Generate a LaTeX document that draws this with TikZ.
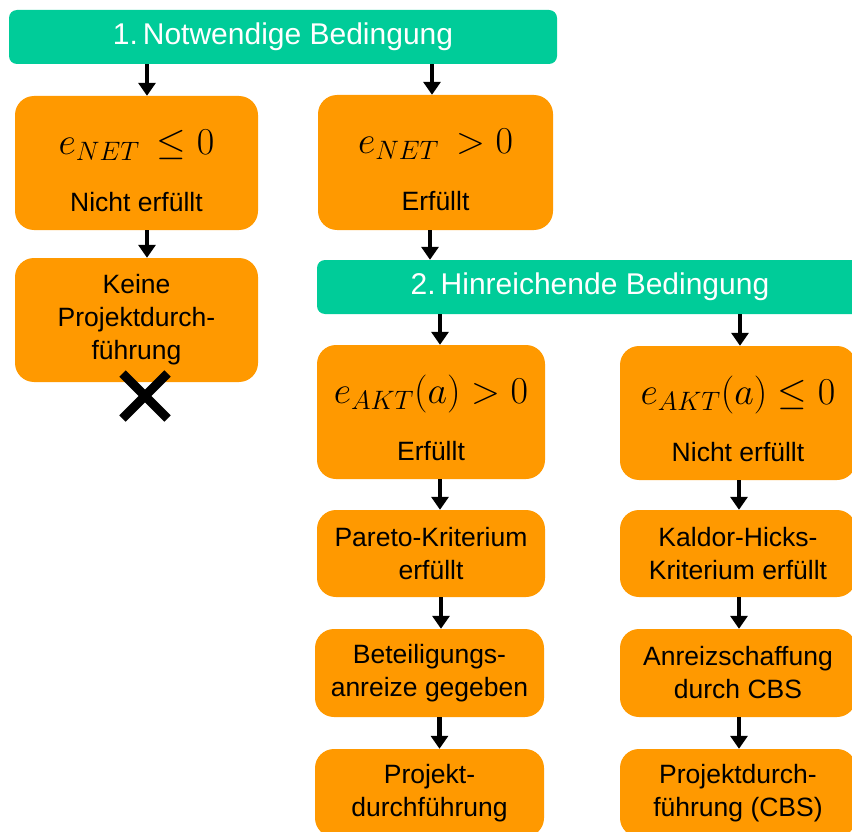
\documentclass[tikz,border=0pt]{standalone}
\usepackage{fix-cm}
\usepackage[no-math]{fontspec}
\setmainfont{Liberation Sans}
\usetikzlibrary{arrows.meta,shapes.misc}
\definecolor{barGreen}{RGB}{0,204,153}
\definecolor{boxOrange}{RGB}{255,153,0}
\newcommand{\bigmath}[1]{{\fontsize{38}{42}\selectfont\rule{0pt}{40pt}$#1$}}
\begin{document}
\begin{tikzpicture}[x=1pt, y=-1pt,
  bar/.style={fill=barGreen, rounded corners=8pt, text=white, inner sep=0pt,
    minimum height=54pt, font=\fontsize{30}{36}\selectfont},
  box/.style={fill=boxOrange, rounded corners=19pt, inner sep=0pt, align=center,
    font=\fontsize{26.5}{33}\selectfont},
  arr/.style={line width=4.5pt, -{Triangle[length=13pt,width=17pt]}}]
\useasboundingbox (0,0) rectangle (852,832);
\clip (0,0) rectangle (852,832);
\node[bar, minimum width=548pt] (P_0_0) at (283,37) {1.\,Notwendige Bedingung};
\node[box, minimum width=243pt, minimum height=134pt] (P_1_0) at (136.5,163) {\bigmath{e_{NET}\,\le 0}\\[24pt]Nicht erfüllt};
\draw[arr] ([xshift=10.5pt]P_1_0.north |- P_0_0.south) -- ([xshift=10.5pt]P_1_0.north);
\node[box, minimum width=235pt, minimum height=135pt] (P_1_1) at (435.5,162.5) {\bigmath{e_{NET}\,> 0}\\[24pt]Erfüllt};
\draw[arr] ([xshift=-3.5pt]P_1_1.north |- P_0_0.south) -- ([xshift=-3.5pt]P_1_1.north);
\node[box, minimum width=243pt, minimum height=124pt] (P_2_0) at (136.5,320) {Keine\\Projektdurch-\\führung};
\draw[arr] ([xshift=10.5pt]P_1_0.south) -- ([xshift=10.5pt]P_2_0.north);
\node[cross out, draw, line width=9pt, inner sep=0pt, minimum size=36pt] (P_2_0x) at (145,396) {};
\node[bar, minimum width=546pt] (P_2_1) at (590,287) {2.\,Hinreichende Bedingung};
\draw[arr] ([xshift=-5.5pt]P_1_1.south) -- ([xshift=-5.5pt]P_1_1.south |- P_2_1.north);
\node[box, minimum width=228pt, minimum height=134pt] (P_3_1) at (431,412) {\bigmath{e_{AKT}(a) > 0}\\[24pt]Erfüllt};
\draw[arr] ([xshift=9pt]P_3_1.north |- P_2_1.south) -- ([xshift=9pt]P_3_1.north);
\node[box, minimum width=236pt, minimum height=134pt] (P_3_2) at (738,413) {\bigmath{e_{AKT}(a) \le 0}\\[24pt]Nicht erfüllt};
\draw[arr] ([xshift=2pt]P_3_2.north |- P_2_1.south) -- ([xshift=2pt]P_3_2.north);
\node[box, minimum width=228pt, minimum height=87pt] (P_4_1) at (431,553.5) {Pareto-Kriterium\\erfüllt};
\draw[arr] ([xshift=9pt]P_3_1.south) -- ([xshift=9pt]P_3_1.south |- P_4_1.north);
\node[box, minimum width=236pt, minimum height=87pt] (P_4_2) at (738,553.5) {Kaldor-Hicks-\\Kriterium erfüllt};
\draw[arr] ([xshift=1pt]P_3_2.south) -- ([xshift=1pt]P_3_2.south |- P_4_2.north);
\node[box, minimum width=229pt, minimum height=88pt] (P_5_1) at (429.5,673) {Beteiligungs-\\anreize gegeben};
\draw[arr] ([xshift=10pt]P_4_1.south) -- ([xshift=10pt]P_4_1.south |- P_5_1.north);
\node[box, minimum width=236pt, minimum height=88pt] (P_5_2) at (738,673) {Anreizschaffung\\durch CBS};
\draw[arr] ([xshift=1pt]P_4_2.south) -- ([xshift=1pt]P_4_2.south |- P_5_2.north);
\node[box, minimum width=229pt, minimum height=88pt] (P_6_1) at (429.5,793) {Projekt-\\durchführung};
\draw[arr] ([xshift=10pt]P_5_1.south) -- ([xshift=10pt]P_5_1.south |- P_6_1.north);
\node[box, minimum width=236pt, minimum height=88pt] (P_6_2) at (738,793) {Projektdurch-\\führung (CBS)};
\draw[arr] ([xshift=1pt]P_5_2.south) -- ([xshift=1pt]P_5_2.south |- P_6_2.north);
\end{tikzpicture}
\end{document}
